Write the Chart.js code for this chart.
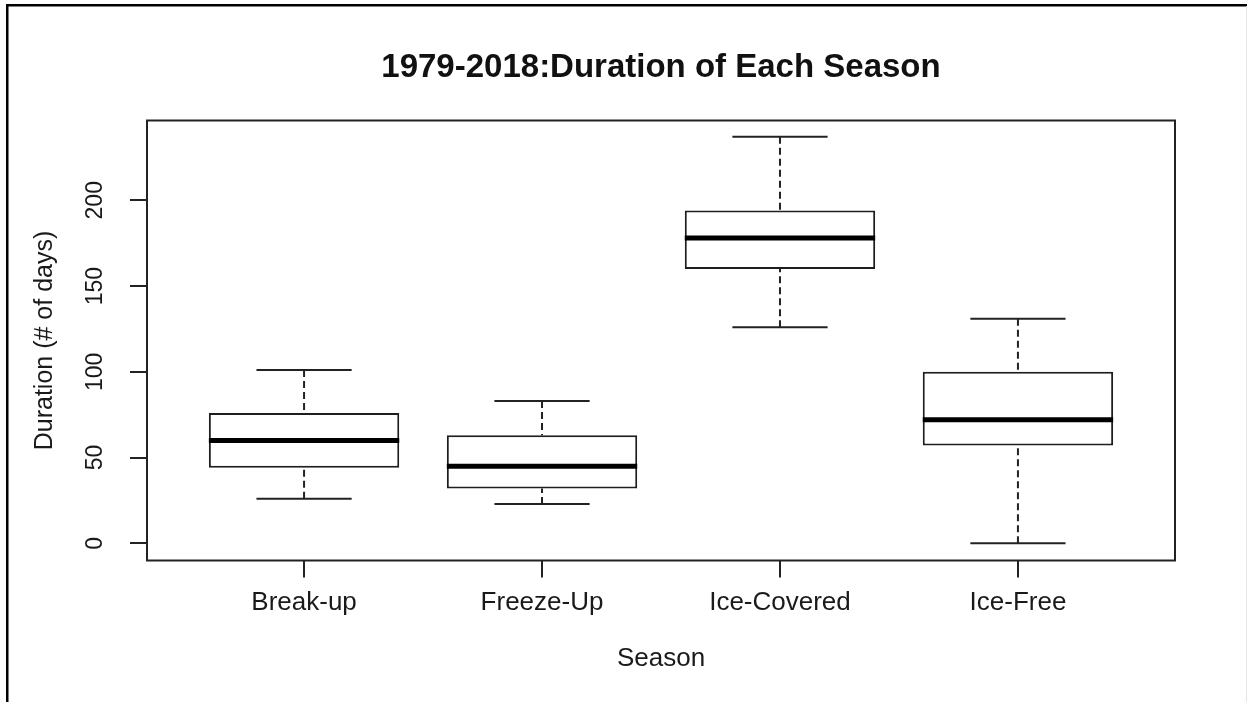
<!DOCTYPE html>
<html><head><meta charset="utf-8">
<script src="https://cdn.jsdelivr.net/npm/chart.js@4.4.1/dist/chart.umd.min.js"></script>
<style>html,body{margin:0;padding:0;background:#fff;overflow:hidden;}</style>
</head><body>
<canvas id="c" width="1247" height="702"></canvas>
<script>
// ---- data ----
const categories = ['Break-up', 'Freeze-Up', 'Ice-Covered', 'Ice-Free'];
const whiskerLow = [26, 23, 126, 0];
const q1 = [44, 32, 160, 57];
const median = [60, 45, 178, 72];
const q3 = [76, 63, 194, 100];
const whiskerHigh = [101, 83, 237, 131];
const yTicks = [0, 50, 100, 150, 200];
const xPositions = [1, 2, 3, 4];

const FONT = "'Liberation Sans', Arial, Helvetica, sans-serif";
Chart.defaults.font.family = FONT;

const boxData = categories.map((c, i) => ({ x: xPositions[i], y: [q1[i], q3[i]] }));

const boxplotPlugin = {
  id: 'boxplotExtras',
  beforeDraw(chart) {
    const c = chart.ctx;
    c.save();
    c.fillStyle = '#fff';
    c.fillRect(0, 0, chart.width, chart.height);
    c.fillStyle = '#000';
    c.fillRect(6, 4, chart.width - 6, 2.5);
    c.fillRect(6, 4, 2.5, chart.height - 4);
    c.fillStyle = '#e4e4e4';
    c.fillRect(chart.width - 1, 6, 1, chart.height - 6);
    c.restore();
  },
  afterDatasetsDraw(chart) {
    const { ctx, scales: { x, y } } = chart;
    const meta = chart.getDatasetMeta(0);
    ctx.save();
    categories.forEach((c, i) => {
      const bar = meta.data[i];
      const cx = x.getPixelForValue(xPositions[i]);
      const w = bar.width;
      const yHi = y.getPixelForValue(whiskerHigh[i]);
      const yLo = y.getPixelForValue(whiskerLow[i]);
      const yQ1 = y.getPixelForValue(q1[i]);
      const yQ3 = y.getPixelForValue(q3[i]);
      const yMed = y.getPixelForValue(median[i]);
      ctx.strokeStyle = '#222';
      ctx.lineWidth = 2;
      ctx.setLineDash([7, 4]);
      ctx.beginPath();
      ctx.moveTo(cx, yHi); ctx.lineTo(cx, yQ3);
      ctx.moveTo(cx, yLo); ctx.lineTo(cx, yQ1);
      ctx.stroke();
      ctx.setLineDash([]);
      ctx.beginPath();
      ctx.moveTo(cx - w / 4, yHi); ctx.lineTo(cx + w / 4, yHi);
      ctx.moveTo(cx - w / 4, yLo); ctx.lineTo(cx + w / 4, yLo);
      ctx.stroke();
      ctx.strokeStyle = '#000';
      ctx.lineWidth = 5;
      ctx.beginPath();
      ctx.moveTo(cx - w / 2, yMed); ctx.lineTo(cx + w / 2, yMed);
      ctx.stroke();
    });
    const a = chart.chartArea;
    ctx.lineWidth = 2;
    ctx.strokeStyle = '#222';
    ctx.strokeRect(a.left, a.top, a.right - a.left, a.bottom - a.top);
    ctx.restore();
  }
};

new Chart(document.getElementById('c'), {
  type: 'bar',
  data: {
    datasets: [{
      data: boxData,
      xAxisID: 'x', yAxisID: 'y',
      backgroundColor: '#ffffff',
      borderColor: '#1e1e1e',
      borderWidth: 2,
      borderSkipped: false,
      barPercentage: 0.8,
      categoryPercentage: 1
    }]
  },
  options: {
    responsive: false,
    animation: false,
    devicePixelRatio: 1,
    layout: { padding: { left: 0, right: -75, top: 0, bottom: 0 } },
    plugins: {
      legend: { display: false },
      tooltip: { enabled: false },
      title: {
        display: true,
        text: '1979-2018:Duration of Each Season',
        color: '#111',
        font: { family: FONT, size: 33, weight: 'bold', lineHeight: 1.2 },
        padding: { top: 48.2, bottom: 32.7 }
      }
    },
    scales: {
      x: {
        type: 'linear',
        position: 'bottom',
        min: 0.34, max: 4.66,
        offset: false,
        afterBuildTicks: s => { s.ticks = xPositions.map(v => ({ value: v })); },
        afterFit: s => { s.height = 141.5; },
        ticks: {
          callback: v => categories[v - 1],
          font: { size: 26, lineHeight: 1.2 },
          color: '#1a1a1a',
          padding: 10,
          maxRotation: 0, minRotation: 0,
          autoSkip: false
        },
        grid: { offset: false, drawOnChartArea: false, drawTicks: true, tickLength: 17, color: '#222', lineWidth: 2 },
        border: { display: false },
        title: { display: true, text: 'Season', color: '#1a1a1a', font: { size: 26, lineHeight: 1.2 }, padding: { top: 0, bottom: 27.5 } }
      },
      y: {
        type: 'linear',
        position: 'left',
        min: -10, max: 246.5,
        afterBuildTicks: s => { s.ticks = yTicks.map(v => ({ value: v })); },
        afterFit: s => { s.width = 147; },
        ticks: {
          font: { size: 23, lineHeight: 1.2 },
          color: '#1a1a1a',
          minRotation: 90, maxRotation: 90,
          crossAlign: 'center',
          padding: 15
        },
        grid: { drawOnChartArea: false, drawTicks: true, tickLength: 17, color: '#222', lineWidth: 2 },
        border: { display: false },
        title: { display: true, text: 'Duration (# of days)', color: '#1a1a1a', font: { size: 25, lineHeight: 1.2 }, padding: { top: 30, bottom: 0 } }
      },
      yR: {
        type: 'linear',
        position: 'right',
        min: 0, max: 1,
        afterFit: s => { s.width = 147; },
        ticks: { display: false },
        grid: { display: false },
        border: { display: false }
      }
    }
  },
  plugins: [boxplotPlugin]
});
</script>
</body></html>
